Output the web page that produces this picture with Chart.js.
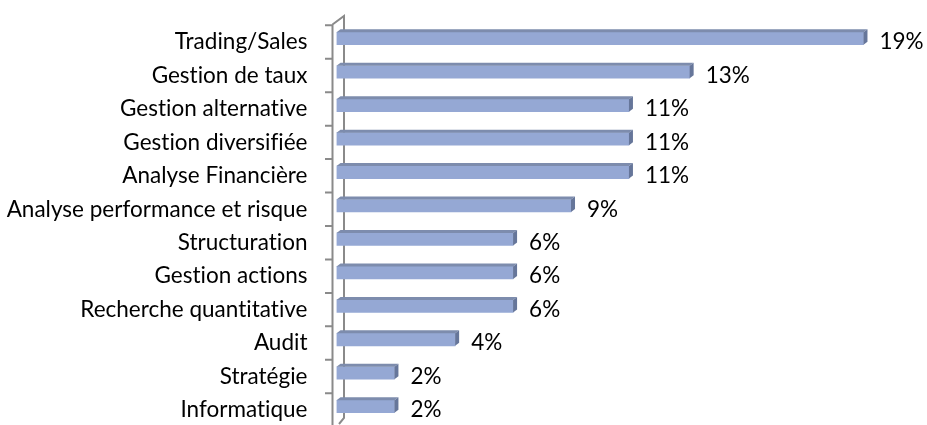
<!DOCTYPE html>
<html>
<head>
<meta charset="utf-8">
<script src="https://cdn.jsdelivr.net/npm/chart.js@4.4.1/dist/chart.umd.min.js"></script>
<style>
  html, body { margin: 0; padding: 0; background: #fff; overflow: hidden; }
  #wrap { position: relative; width: 927px; height: 425px; }
</style>
</head>
<body>
<div id="wrap"><canvas id="c"></canvas></div>
<script>
// Categories (top to bottom)
const categories = [
  "Trading/Sales",
  "Gestion de taux",
  "Gestion alternative",
  "Gestion diversifiée",
  "Analyse Financière",
  "Analyse performance et risque",
  "Structuration",
  "Gestion actions",
  "Recherche quantitative",
  "Audit",
  "Stratégie",
  "Informatique"
];
// Share of respondents (%)
const shares = [19.1, 12.8, 10.6, 10.6, 10.6, 8.5, 6.4, 6.4, 6.4, 4.3, 2.1, 2.1];
// Labels shown next to the bars
const shareLabels = ["19%", "13%", "11%", "11%", "11%", "9%", "6%", "6%", "6%", "4%", "2%", "2%"];

const FONT = "Lato, 'Open Sans', sans-serif";
const FONT_SIZE = 22.5;
const AXIS_GRAY = "#8a8a8a";
const FRONT = "#95a8d4";
const TOP = "#7d8cad";
const SIDE = "#66769a";
const DX = 4, DY = 3;
const LABEL_SHIFT = 3.5;

const noLigatures = {
  id: "noLigatures",
  beforeDraw(chart) {
    if ("letterSpacing" in chart.ctx) chart.ctx.letterSpacing = "0.01px";
  }
};

const axisWall = {
  id: "axisWall",
  beforeDatasetsDraw(chart) {
    const { ctx, chartArea } = chart;
    const left = chartArea.left;
    const fx = left - 4;      // front axis line
    const bx = left + 7.5;    // back wall line
    const topY = chartArea.top + LABEL_SHIFT - 0.8;
    ctx.save();
    ctx.strokeStyle = AXIS_GRAY;
    ctx.lineWidth = 2;
    ctx.beginPath();
    ctx.moveTo(fx, topY);
    ctx.lineTo(fx, chart.height + 5);
    ctx.moveTo(fx, topY);
    ctx.lineTo(bx, topY - 8.5);
    ctx.lineTo(bx, chart.height - 7);
    ctx.lineTo(bx - 5, chart.height - 1);
    const n = categories.length;
    const step = (chartArea.bottom - chartArea.top) / n;
    for (let i = 0; i <= n; i++) {
      const y = chartArea.top + i * step + LABEL_SHIFT;
      ctx.moveTo(fx - 7.5, y);
      ctx.lineTo(fx, y);
    }
    ctx.stroke();
    ctx.restore();
  }
};

const bar3d = {
  id: "bar3d",
  afterDatasetsDraw(chart) {
    const { ctx } = chart;
    const meta = chart.getDatasetMeta(0);
    ctx.save();
    meta.data.forEach((el, i) => {
      const { x, y, base, height } = el.getProps(["x", "y", "base", "height"], true);
      const top = y - height / 2;
      const bottom = y + height / 2;
      ctx.fillStyle = TOP;
      ctx.beginPath();
      ctx.moveTo(base, top);
      ctx.lineTo(x, top);
      ctx.lineTo(x + DX, top - DY);
      ctx.lineTo(base + DX, top - DY);
      ctx.closePath();
      ctx.fill();
      ctx.fillStyle = SIDE;
      ctx.beginPath();
      ctx.moveTo(x, top);
      ctx.lineTo(x + DX, top - DY);
      ctx.lineTo(x + DX, bottom - DY);
      ctx.lineTo(x, bottom);
      ctx.closePath();
      ctx.fill();
      ctx.fillStyle = "#000";
      ctx.font = FONT_SIZE + "px " + FONT;
      ctx.textAlign = "left";
      ctx.textBaseline = "middle";
      ctx.fillText(shareLabels[i], x + DX + 12, y + LABEL_SHIFT);
    });
    ctx.restore();
  }
};

new Chart(document.getElementById("c"), {
  type: "bar",
  data: {
    labels: categories,
    datasets: [{
      data: shares,
      backgroundColor: FRONT,
      borderWidth: 0,
      barThickness: 12.5
    }]
  },
  options: {
    indexAxis: "y",
    responsive: true,
    maintainAspectRatio: false,
    animation: false,
    events: [],
    layout: { padding: { left: 0, right: 38.7, top: 21.8, bottom: 1.8 } },
    plugins: { legend: { display: false }, tooltip: { enabled: false } },
    scales: {
      x: { display: false, min: 0, max: 20 },
      y: {
        afterFit(scale) {
          scale.width = 336.5;
          scale.paddingTop = 0;
          scale.paddingBottom = 0;
        },
        grid: { display: false, drawTicks: false },
        border: { display: false },
        ticks: {
          color: "#000",
          font: { family: FONT, size: FONT_SIZE },
          padding: 29,
          labelOffset: LABEL_SHIFT,
          autoSkip: false
        }
      }
    }
  },
  plugins: [noLigatures, axisWall, bar3d]
});
</script>
</body>
</html>
